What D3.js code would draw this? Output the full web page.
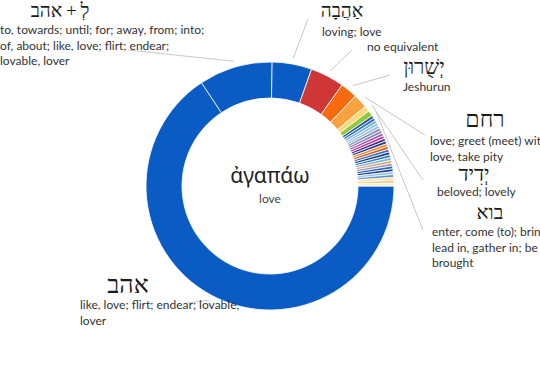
<!DOCTYPE html>
<html>
<head>
<meta charset="utf-8">
<script src="https://cdn.jsdelivr.net/npm/d3@7"></script>
<style>
  body { margin: 0; background: #fff; }
  svg { display: block; }
  .gloss { font-family: Lato, "Open Sans", sans-serif; font-size: 12px; fill: #333; }
  .lemma { font-family: "Liberation Serif", "DejaVu Sans", serif; fill: #1a1a1a; }
</style>
</head>
<body>
<svg id="chart" width="540" height="374"></svg>
<script>
// hebrew lemmas rendering the greek word, biggest first
var lemmas = ["אהב", "לְ\u2009+\u2009אהב", "אַהֲבָה", "", "יְשֻׁרוּן", "רחם", "יְדִיד", "בוא",
  "", "", "", "", "", "", "", "", "", "", "", "", "", "",
  "", "", "", "", "", "", "", "", "", ""];

var glosses = [
  ["like, love; flirt; endear; lovable,", "lover"],
  ["to, towards; until; for; away, from; into;", "of, about; like, love; flirt; endear;", "lovable, lover"],
  ["loving; love"],
  ["no equivalent"],
  ["Jeshurun"],
  ["love; greet (meet) with", "love, take pity"],
  ["beloved; lovely"],
  ["enter, come (to); bring in;", "lead in, gather in; be", "brought"]
];

var counts = [178, 26, 14, 12, 6, 5, 2, 2,
  1, 1, 1, 1, 1, 1, 1, 1, 1, 1, 1, 1, 1,
  1, 1, 1, 1, 1, 1, 1, 1, 1, 1, 1, 1, 1];

var colors = ["#0b5bc4", "#0b5bc4", "#0b5bc4", "#cf3737", "#f66a10", "#f8a140", "#fbd97c", "#94c83c",
  "#1f4e9c", "#2a6bbf", "#6aaee0", "#8cc5e8", "#9dbbd8", "#7f8fb0", "#8e7fb5", "#9b59b6", "#c2399a",
  "#4b2c7f", "#1d3f8f", "#f08a24", "#e0522b", "#2f6fc0", "#1b3c7a", "#3a78c8", "#74b3e2", "#d9a86c",
  "#a08fc8", "#2b67b8", "#1c3e80", "#8fc3ea", "#5d8fd0", "#fbe29a", "#f3c98b", "#fdf0c0"];

var centerWord = "ἀγαπάω";
var centerGloss = "love";

// where each label sits (header centre/size, text origin, leader end)
var labelPos = [
  { hx: 128, hy: 293, hs: 25, tx: 80, ty: 309, lx: 187, ly: 303 },
  { hx: 60, hy: 17, hs: 19, tx: 0, ty: 34, lx: 128, ly: 50 },
  { hx: 342, hy: 17, hs: 19, tx: 322, ty: 36, lx: 308, ly: 19 },
  { hx: null, hy: null, hs: 0, tx: 367, ty: 51, lx: 352, ly: 50 },
  { hx: 424, hy: 74, hs: 21, tx: 403, ty: 91, lx: 390, ly: 75 },
  { hx: 485, hy: 127, hs: 23, tx: 430, ty: 145, lx: 425, ly: 135 },
  { hx: 474, hy: 181, hs: 21, tx: 437, ty: 196, lx: 423, ly: 180 },
  { hx: 490, hy: 219, hs: 20, tx: 432, ty: 236, lx: 423, ly: 230 }
];

var svg = d3.select("#chart"),
    cx = 270, cy = 186,
    rOuter = 124, rInner = 88,
    lineH = 15.5;

var slices = counts.map(function(c, i) {
  return { lemma: lemmas[i], count: c, color: colors[i] };
});

var pie = d3.pie()
  .sort(null)
  .value(function(d) { return d.count; })
  .startAngle(Math.PI / 2)
  .endAngle(Math.PI / 2 + 2 * Math.PI);

var arcs = pie(slices);

var arc = d3.arc().innerRadius(rInner).outerRadius(rOuter);
var edge = d3.arc().innerRadius(rOuter + 6).outerRadius(rOuter + 6);

var g = svg.append("g").attr("transform", "translate(" + cx + "," + cy + ")");

// leader lines first, ring goes over them
svg.append("g").selectAll("line")
  .data(labelPos)
  .enter().append("line")
    .attr("x1", function(d, i) { return cx + edge.centroid(arcs[i])[0]; })
    .attr("y1", function(d, i) { return cy + edge.centroid(arcs[i])[1]; })
    .attr("x2", function(d) { return d.lx; })
    .attr("y2", function(d) { return d.ly; })
    .attr("stroke", "#c8c8c8")
    .attr("stroke-width", 1);

g.selectAll("path")
  .data(arcs)
  .enter().append("path")
    .attr("d", arc)
    .attr("fill", function(d) { return d.data.color; })
    .attr("stroke", "#fff")
    .attr("stroke-width", 0.8);

// labels
var lab = svg.append("g").selectAll("g")
  .data(labelPos)
  .enter().append("g");

lab.each(function(d, i) {
  var el = d3.select(this);
  if (d.hx != null) {
    el.append("text")
      .attr("class", "lemma")
      .attr("x", d.hx)
      .attr("y", d.hy)
      .attr("text-anchor", "middle")
      .style("font-size", d.hs + "px")
      .text(lemmas[i]);
  }
  el.selectAll("text.gloss")
    .data(glosses[i])
    .enter().append("text")
      .attr("class", "gloss")
      .attr("x", d.tx)
      .attr("y", function(s, k) { return d.ty + k * lineH; })
      .text(function(s) { return s; });
});

// centre
svg.append("text")
  .attr("x", cx).attr("y", cy - 3)
  .attr("text-anchor", "middle")
  .style("font-family", "'Noto Sans', 'DejaVu Sans', sans-serif")
  .style("font-size", "21px")
  .style("fill", "#222")
  .text(centerWord);

svg.append("text")
  .attr("x", cx).attr("y", cy + 17)
  .attr("text-anchor", "middle")
  .attr("class", "gloss")
  .style("fill", "#444")
  .text(centerGloss);
</script>
</body>
</html>
